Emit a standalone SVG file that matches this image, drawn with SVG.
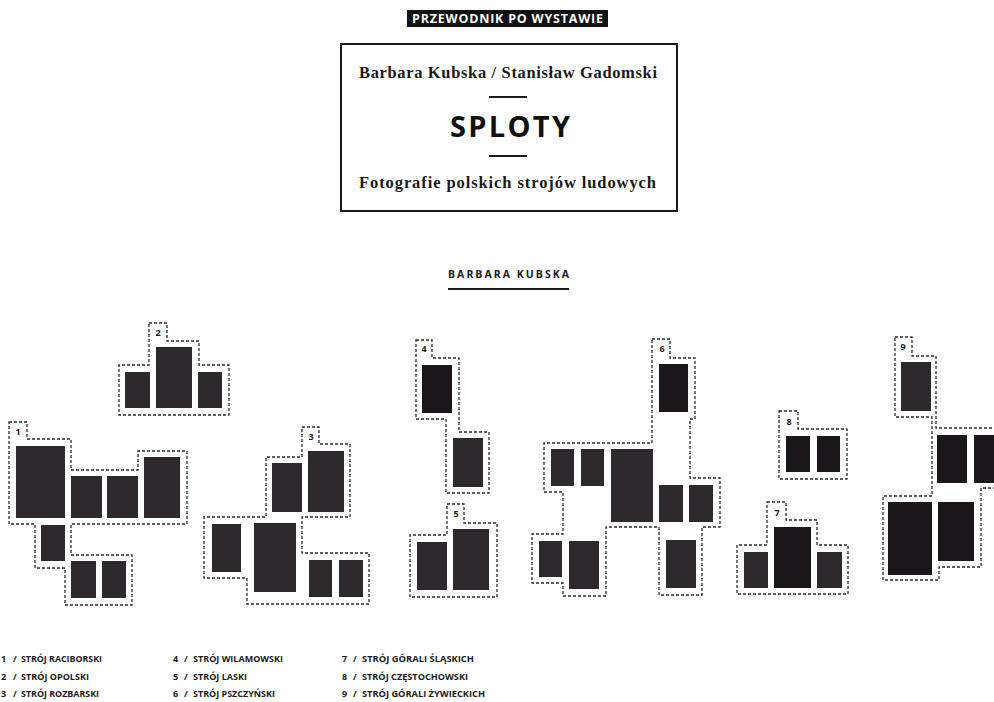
<svg xmlns="http://www.w3.org/2000/svg" width="994" height="702" viewBox="0 0 994 702">
  <style>
    .outline { fill: none; stroke: #2a2a2a; stroke-width: 1.3; stroke-dasharray: 3 2; }
    .photo { fill: #2e292d; }
    .dark { fill: #1b161a; }
    .num { font-family: "Open Sans", "DejaVu Sans", sans-serif; font-weight: 700; font-size: 9px; fill: #1a1a1a; text-anchor: middle; }
    .leg { font-family: "Open Sans", "DejaVu Sans", sans-serif; font-weight: 700; font-size: 9px; fill: #1a1a1a; }
    .serif { font-family: "Liberation Serif", "DejaVu Serif", serif; font-weight: 700; font-size: 16.5px; fill: #1a1a1a; }
    .rule { stroke: #1a1a1a; stroke-width: 2; }
  </style>
  <rect x="0" y="0" width="994" height="702" fill="#ffffff"/>

  <g id="header">
    <rect x="407" y="10" width="201" height="17" fill="#111111"/>
    <text x="412" y="23" font-family="'Open Sans', 'DejaVu Sans', sans-serif" font-weight="700" font-size="12.5" fill="#ffffff" textLength="191" lengthAdjust="spacing">PRZEWODNIK PO WYSTAWIE</text>
  </g>

  <g id="title-box">
    <rect x="341" y="44" width="336" height="167" fill="none" stroke="#1a1a1a" stroke-width="2"/>
    <text class="serif" x="359" y="78" textLength="298" lengthAdjust="spacing">Barbara Kubska / Stanisław Gadomski</text>
    <line class="rule" x1="489" y1="97" x2="527" y2="97"/>
    <text x="450" y="137" font-family="'Open Sans', 'DejaVu Sans', sans-serif" font-weight="700" font-size="29" fill="#111111" textLength="120" lengthAdjust="spacing">SPLOTY</text>
    <line class="rule" x1="489" y1="156" x2="527" y2="156"/>
    <text class="serif" x="359" y="188" textLength="297" lengthAdjust="spacing">Fotografie polskich strojów ludowych</text>
  </g>

  <g id="section-title">
    <text x="448" y="278" font-family="'Open Sans', 'DejaVu Sans', sans-serif" font-weight="700" font-size="10.5" fill="#1a1a1a" textLength="121" lengthAdjust="spacing">BARBARA KUBSKA</text>
    <line class="rule" x1="448" y1="289" x2="569" y2="289"/>
  </g>

  <g id="group-1">
    <path class="outline" d="M9,422 H27 V439 H71 V470 H138 V451 H187 V524 H71 V555 H132 V605 H65 V568 H35 V524 H9 Z"/>
    <rect class="photo" x="16" y="446" width="49" height="72"/>
    <rect class="photo" x="71" y="476" width="31" height="42"/>
    <rect class="photo" x="107" y="476" width="31" height="42"/>
    <rect class="photo" x="144" y="457" width="36" height="61"/>
    <rect class="photo" x="41" y="525" width="24" height="36"/>
    <rect class="photo" x="71" y="561" width="25" height="37"/>
    <rect class="photo" x="102" y="561" width="24" height="37"/>
    <text class="num" x="18" y="435">1</text>
  </g>

  <g id="group-2">
    <path class="outline" d="M149,323 H167 V341 H199 V365 H229 V415 H119 V365 H149 Z"/>
    <rect class="photo" x="125" y="372" width="25" height="36"/>
    <rect class="photo" x="156" y="347" width="36" height="61"/>
    <rect class="photo" x="198" y="372" width="24" height="36"/>
    <text class="num" x="158" y="336">2</text>
  </g>

  <g id="group-3">
    <path class="outline" d="M302,427 H319 V444 H350 V517 H302 V553 H369 V604 H247 V578 H204 V517 H266 V457 H302 Z"/>
    <rect class="photo" x="272" y="463" width="30" height="49"/>
    <rect class="photo" x="308" y="451" width="36" height="61"/>
    <rect class="photo" x="212" y="524" width="29" height="48"/>
    <rect class="photo" x="254" y="523" width="42" height="69"/>
    <rect class="photo" x="309" y="560" width="23" height="37"/>
    <rect class="photo" x="339" y="560" width="24" height="37"/>
    <text class="num" x="311" y="440">3</text>
  </g>

  <g id="group-4">
    <path class="outline" d="M416,340 H432 V358 H459 V432 H489 V493 H446 V419 H416 Z"/>
    <rect class="dark" x="422" y="365" width="30" height="48"/>
    <rect class="photo" x="453" y="438" width="30" height="49"/>
    <text class="num" x="424" y="352">4</text>
  </g>

  <g id="group-5">
    <path class="outline" d="M447,504 H464 V523 H497 V597 H410 V535 H447 Z"/>
    <rect class="photo" x="417" y="542" width="30" height="48"/>
    <rect class="photo" x="453" y="529" width="36" height="61"/>
    <text class="num" x="456" y="517">5</text>
  </g>

  <g id="group-6">
    <path class="outline" d="M652,339 H670 V358 H695 V419 H690 V478 H720 V527 H702 V595 H659 V527 H606 V596 H563 V583 H532 V534 H563 V492 H544 V443 H652 Z"/>
    <rect class="dark" x="659" y="364" width="29" height="48"/>
    <rect class="photo" x="551" y="449" width="23" height="37"/>
    <rect class="photo" x="581" y="449" width="23" height="37"/>
    <rect class="photo" x="611" y="449" width="42" height="73"/>
    <rect class="photo" x="659" y="485" width="24" height="37"/>
    <rect class="photo" x="689" y="485" width="24" height="37"/>
    <rect class="photo" x="539" y="541" width="23" height="36"/>
    <rect class="photo" x="569" y="541" width="30" height="48"/>
    <rect class="photo" x="666" y="540" width="30" height="48"/>
    <text class="num" x="662" y="352">6</text>
  </g>

  <g id="group-7">
    <path class="outline" d="M767,502 H786 V520 H817 V545 H848 V594 H737 V545 H767 Z"/>
    <rect class="photo" x="744" y="552" width="24" height="36"/>
    <rect class="dark" x="774" y="527" width="37" height="61"/>
    <rect class="photo" x="817" y="552" width="25" height="36"/>
    <text class="num" x="777" y="516">7</text>
  </g>

  <g id="group-8">
    <path class="outline" d="M779,411 H798 V429 H847 V479 H779 Z"/>
    <rect class="dark" x="786" y="436" width="24" height="36"/>
    <rect class="dark" x="817" y="436" width="23" height="36"/>
    <text class="num" x="789" y="425">8</text>
  </g>

  <g id="group-9">
    <path class="outline" d="M895,337 H912 V356 H936 V428 H1010 V488 H981 V567 H939 V580 H883 V496 H932 V417 H895 Z"/>
    <rect class="photo" x="901" y="362" width="30" height="49"/>
    <rect class="dark" x="937" y="435" width="30" height="48"/>
    <rect class="dark" x="974" y="435" width="36" height="48"/>
    <rect class="dark" x="888" y="502" width="44" height="73"/>
    <rect class="dark" x="938" y="502" width="36" height="59"/>
    <text class="num" x="903" y="350">9</text>
  </g>

  <g id="legend">
    <text class="leg" x="1" y="662">1</text><text class="leg" x="13" y="662">/</text>
    <text class="leg" x="21" y="662" textLength="81" lengthAdjust="spacingAndGlyphs">STRÓJ RACIBORSKI</text>
    <text class="leg" x="1" y="680">2</text><text class="leg" x="13" y="680">/</text>
    <text class="leg" x="21" y="680" textLength="68" lengthAdjust="spacingAndGlyphs">STRÓJ  OPOLSKI</text>
    <text class="leg" x="1" y="697">3</text><text class="leg" x="13" y="697">/</text>
    <text class="leg" x="21" y="697" textLength="78" lengthAdjust="spacingAndGlyphs">STRÓJ ROZBARSKI</text>

    <text class="leg" x="173" y="662">4</text><text class="leg" x="184" y="662">/</text>
    <text class="leg" x="193" y="662" textLength="90" lengthAdjust="spacingAndGlyphs">STRÓJ WILAMOWSKI</text>
    <text class="leg" x="173" y="680">5</text><text class="leg" x="184" y="680">/</text>
    <text class="leg" x="193" y="680" textLength="54" lengthAdjust="spacingAndGlyphs">STRÓJ LASKI</text>
    <text class="leg" x="173" y="697">6</text><text class="leg" x="184" y="697">/</text>
    <text class="leg" x="193" y="697" textLength="82" lengthAdjust="spacingAndGlyphs">STRÓJ PSZCZYŃSKI</text>

    <text class="leg" x="342" y="662">7</text><text class="leg" x="353" y="662">/</text>
    <text class="leg" x="362" y="662" textLength="112" lengthAdjust="spacingAndGlyphs">STRÓJ GÓRALI ŚLĄSKICH</text>
    <text class="leg" x="342" y="680">8</text><text class="leg" x="353" y="680">/</text>
    <text class="leg" x="362" y="680" textLength="106" lengthAdjust="spacingAndGlyphs">STRÓJ CZĘSTOCHOWSKI</text>
    <text class="leg" x="342" y="697">9</text><text class="leg" x="353" y="697">/</text>
    <text class="leg" x="362" y="697" textLength="123" lengthAdjust="spacingAndGlyphs">STRÓJ GÓRALI ŻYWIECKICH</text>
  </g>
</svg>
